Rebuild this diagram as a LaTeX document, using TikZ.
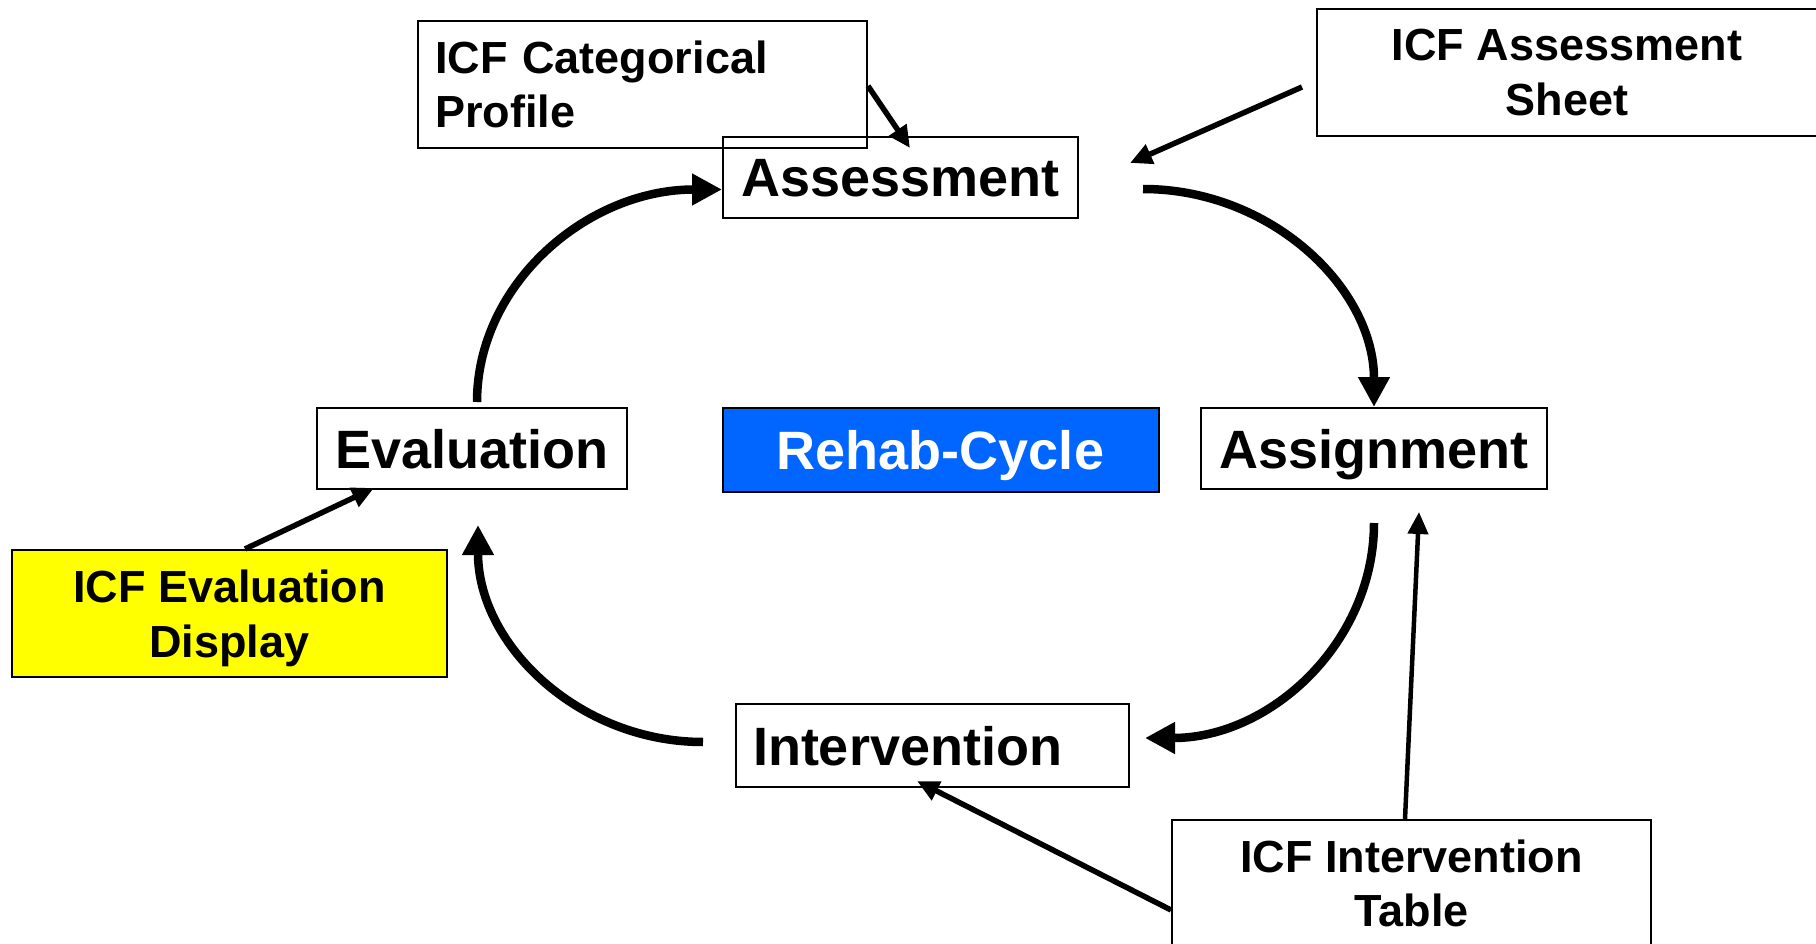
\documentclass[tikz,border=0pt]{standalone}
\usepackage{fontspec}
\setmainfont{Liberation Sans}
\usetikzlibrary{arrows.meta,calc}
\definecolor{rehabblue}{RGB}{0,102,255}
\definecolor{icfyellow}{RGB}{255,255,0}
\begin{document}
\begin{tikzpicture}[x=1pt,y=-1pt,
  mainbox/.style={draw=black,line width=2pt,inner xsep=17pt,inner ysep=0pt,
    font=\fontsize{54}{64}\selectfont\bfseries,text height=39pt,text depth=0pt,
    minimum height=81pt},
  icfbox/.style={draw=black,line width=2pt,inner xsep=17pt,inner ysep=0pt,
    font=\fontsize{45}{54.5}\selectfont\bfseries,minimum height=127pt,align=center},
  cyclearrow/.style={line width=8.5pt,-{Triangle[length=30pt,width=30pt]}},
  thinarrow/.style={line width=5.5pt,-{Triangle[length=22pt,width=20pt]}}]
\useasboundingbox (0,0) rectangle (1816,944);
\fill[white] (0,0) rectangle (1816,944);

% main cycle nodes
\node[mainbox,minimum width=355pt] (assess) at (900.5,177.5) {Assessment};
\node[mainbox,minimum width=310pt] (eval) at (472,448.5) {Evaluation};
\node[mainbox,minimum width=436pt,minimum height=84pt,fill=rehabblue,text=white] (rehab) at (940.5,450) {Rehab-Cycle};
\node[mainbox,minimum width=346pt] (assign) at (1374,448.5) {Assignment};
\node[mainbox,text width=359pt,align=left,minimum height=83pt] (interv) at (932.5,745.5) {Intervention};

% ICF nodes
\node[icfbox,text width=415pt,align=left] (cat) at (642.5,84.5) {ICF Categorical\\Profile};
\node[icfbox,minimum width=500pt] (sheet) at (1567,72.5) {ICF Assessment\\Sheet};
\node[icfbox,minimum width=435pt,fill=icfyellow] (evdisp) at (229.5,613.5) {ICF Evaluation\\\smash{Display}};
\node[icfbox,minimum width=479pt] (table) at (1411.5,883.5) {ICF Intervention\\Table};

% free ends
\coordinate (c1) at (477,402);
\coordinate (c2) at (1143,189);
\coordinate (c3s) at (1374,523);
\coordinate (c3e) at (1145,738);
\coordinate (c4s) at (703,742);
\coordinate (c4e) at (478,525);
\coordinate (s2) at (1130,163);
\coordinate (t2) at (1419,512);

% cycle arcs
\draw[cyclearrow] (c1) .. controls (477,284) and (587,189.5) .. ([yshift=-12pt]assess.west);
\draw[cyclearrow] (c2) .. controls (1271,189) and (1374,288) .. (assign.north);
\draw[cyclearrow] (c3s) .. controls (1374,642) and (1271,738) .. (c3e);
\draw[cyclearrow] (c4s) .. controls (579,742) and (478,645) .. (c4e);

% ICF connectors
\draw[thinarrow] ($(cat.east)+(0,1.5)$) -- ($(assess.north)+(9.5,12)$);
\draw[thinarrow] ($(sheet.west)+(-14,14.5)$) -- (s2);
\draw[thinarrow] ($(evdisp.north)+(15.5,0)$) -- ($(eval.south)+(-98,-2)$);
\draw[thinarrow] ($(table.west)+(0,26.5)$) -- ($(interv.south)+(-15.5,-7)$);
\draw[thinarrow,line width=4.5pt] ($(table.north)+(-6.5,0)$) -- (t2);
\end{tikzpicture}
\end{document}
